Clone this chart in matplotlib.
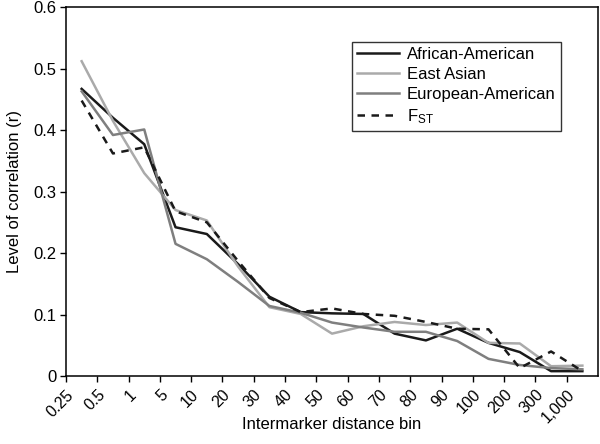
import matplotlib
matplotlib.use("Agg")
import matplotlib.pyplot as plt
import numpy as np

bins = ["0.25", "0.5", "1", "5", "10", "20", "30", "40", "50", "60", "70", "80",
        "90", "100", "200", "300", "1,000"]
african_american = [0.467, 0.42, 0.377, 0.242, 0.231, 0.182, 0.129, 0.104, 0.102, 0.101,
                    0.069, 0.058, 0.077, 0.054, 0.039, 0.008, 0.008]
east_asian = [0.512, 0.415, 0.33, 0.27, 0.253, 0.178, 0.112, 0.101, 0.069, 0.081,
              0.088, 0.083, 0.087, 0.054, 0.053, 0.016, 0.017]
european_american = [0.463, 0.392, 0.401, 0.215, 0.19, 0.153, 0.114, 0.103, 0.087, 0.079,
                     0.072, 0.072, 0.057, 0.028, 0.018, 0.013, 0.011]
fst = [0.448, 0.362, 0.372, 0.268, 0.25, 0.187, 0.127, 0.104, 0.110, 0.101,
       0.098, 0.088, 0.077, 0.076, 0.013, 0.040, 0.008]

plt.rcParams['font.family'] = ['Liberation Sans', 'DejaVu Sans']
plt.rcParams['mathtext.fontset'] = 'custom'
plt.rcParams['mathtext.rm'] = 'Liberation Sans'
plt.rcParams['mathtext.it'] = 'Liberation Sans:italic'

fig = plt.figure(figsize=(6.0, 4.44), dpi=100)
ax = fig.add_axes([0.11, 0.153, 0.8867, 0.831])

n = len(bins)
x = np.arange(n) + 0.5
ax.plot(x, african_american, color='#1a1a1a', lw=1.8, label='African-American')
ax.plot(x, east_asian, color='#aaaaaa', lw=1.8, label='East Asian')
ax.plot(x, european_american, color='#7f7f7f', lw=1.8, label='European-American')
ax.plot(x, fst, color='#1a1a1a', lw=1.8, dashes=(3, 2.6), label=r'F$_\mathregular{ST}$')

ax.set_xlim(0, n)
ax.set_ylim(0, 0.6)
ax.set_xticks(np.arange(n))
ax.set_xticklabels(bins, rotation=45, ha='right', rotation_mode='anchor', fontsize=11.5)
ax.set_yticks(np.arange(0, 0.61, 0.1))
ax.set_yticklabels(["0", "0.1", "0.2", "0.3", "0.4", "0.5", "0.6"], fontsize=12)
ax.tick_params(direction='out', length=4, width=1, color='black', pad=3)
ax.tick_params(axis='x', pad=4)
for s in ax.spines.values():
    s.set_linewidth(1.1)
    s.set_color('black')

ax.set_xlabel('Intermarker distance bin', fontsize=12, va='center')
ax.xaxis.set_label_coords(0.5, -0.132)
ax.set_ylabel('Level of correlation (r)', fontsize=12, labelpad=8)

leg = ax.legend(loc='upper left', bbox_to_anchor=(0.5376, 0.905), fontsize=12,
                frameon=True, fancybox=False, edgecolor='black', handlelength=2.5,
                borderpad=0.3, labelspacing=0.3, handletextpad=0.5, borderaxespad=0)
leg.get_frame().set_linewidth(1.0)

fig.savefig('out.png', dpi=100)
